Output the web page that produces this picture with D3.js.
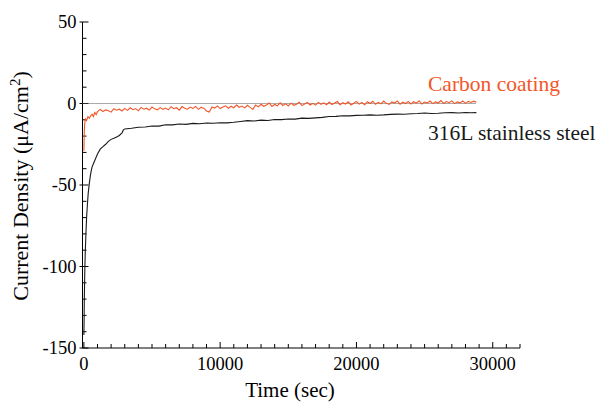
<!DOCTYPE html>
<html>
<head>
<meta charset="utf-8">
<script src="https://cdn.jsdelivr.net/npm/d3@7"></script>
<style>
  body { margin: 0; background: #fff; }
  svg text { font-family: "Liberation Serif", "Times New Roman", serif; }
</style>
</head>
<body>
<svg id="chart" width="603" height="403"></svg>
<script>
// [time (sec), current density (uA/cm2)]
const steelData = [
  [0,-142],[15,-135],[30,-122],[50,-112],[75,-100],[100,-92],[150,-80],[200,-70],
  [260,-62],[320,-55],[400,-49],[500,-43],[600,-39],[700,-37],[800,-35],[1000,-31],
  [1200,-28],[1400,-26.5],[1600,-25],[1800,-23.2],[2000,-22],[2200,-21.3],[2400,-20.5],
  [2600,-19.6],[2800,-18],[2900,-16.2],[3000,-15.6],[3500,-15.2],[4000,-14.6],[4500,-14.4],
  [5000,-13.8],[5500,-13.9],[6000,-13],[6500,-13.1],[7000,-12.6],[7500,-12.8],[8000,-12.2],
  [8500,-12.4],[9000,-12],[9500,-12.1],[10000,-11.8],[10500,-11.9],[11000,-11.5],[11500,-11],
  [12000,-10.5],[12500,-10.7],[13000,-10.2],[13500,-10.4],[14000,-9.8],[14500,-9.9],
  [15000,-9.5],[15500,-9.6],[16000,-9],[16500,-9.1],[17000,-8.8],[17500,-8.5],[18000,-8],
  [18500,-7.9],[19000,-7.5],[19500,-7.6],[20000,-7.3],[20500,-7.2],[21000,-7],[21500,-7.2],
  [22000,-7],[22500,-6.7],[23000,-6.5],[23500,-6.6],[24000,-6.3],[24500,-6.1],[25000,-5.8],
  [25500,-6.1],[26000,-6],[26500,-5.7],[27000,-5.6],[27500,-5.8],[28000,-5.5],[28400,-5.7],
  [28800,-5.6]
];

const carbonData = [
  [0,-29],[15,-24],[30,-18],[50,-14],[80,-11],[120,-9.5],[200,-10.5],[300,-8],[400,-9],
  [500,-7.5],[600,-6.5],[700,-8],[800,-5.5],[900,-6.8],
  [1000,-5.0],[1200,-3.6],[1400,-4.9],[1600,-3.9],[1800,-4.4],[2000,-5.3],[2200,-3.2],
  [2400,-4.1],[2600,-3.5],[2800,-4.6],[3000,-3.0],
  [3200,-4.2],[3400,-2.6],[3600,-3.8],[3800,-3.1],[4000,-4.5],[4200,-2.4],[4400,-3.5],
  [4600,-2.9],[4800,-4.0],[5000,-2.2],[5200,-3.3],[5400,-3.9],[5600,-2.5],[5800,-3.6],[6000,-2.8],
  [6200,-3.9],[6400,-2.0],[6600,-3.2],[6800,-2.6],[7000,-4.1],[7200,-1.9],[7400,-2.9],
  [7600,-3.5],[7800,-2.2],[8000,-3.0],[8200,-1.8],[8400,-3.6],[8600,-2.4],[8800,-2.9],[9000,-4.6],
  [9200,-5.2],[9400,-2.1],[9600,-2.8],[9800,-1.5],[10000,-3.1],[10200,-2.2],[10400,-1.4],
  [10600,-2.9],[10800,-1.7],[11000,-2.6],[11200,-0.9],[11400,-2.3],[11600,-1.6],[11800,-2.7],[12000,-1.1],
  [12200,-2.4],[12400,-3.6],[12600,-1.0],[12800,-2.1],[13000,-0.5],[13200,-1.7],[13400,-0.9],
  [13600,0.3],[13800,-1.8],[14000,-0.6],[14200,-1.4],[14400,0.4],[14600,-1.2],[14800,-0.2],[15000,-1.5],
  [15200,0.2],[15400,-1.1],[15600,-0.4],[15800,0.8],[16000,-1.3],[16200,-0.3],[16400,0.6],
  [16600,-0.9],[16800,0.1],[17000,-1.0],[17200,0.7],[17400,-0.5],[17600,0.4],[17800,-0.8],[18000,0.9],
  [18200,-0.6],[18400,0.3],[18600,1.2],[18800,-0.7],[19000,0.5],[19200,-0.3],[19400,1.0],
  [19600,-0.9],[19800,0.2],[20000,1.3],[20200,-0.4],[20400,0.6],[20600,-0.8],[20800,1.1],[21000,0.0],
  [21200,1.4],[21400,-0.5],[21600,0.7],[21800,-0.2],[22000,1.5],[22200,0.1],[22400,-0.6],
  [22600,1.0],[22800,0.3],[23000,1.6],[23200,-0.4],[23400,0.8],[23600,0.0],[23800,1.3],[24000,-0.3],
  [24200,1.1],[24400,0.2],[24600,1.7],[24800,-0.3],[25000,0.9],[25200,0.4],[25400,1.5],
  [25600,-0.1],[25800,1.0],[26000,0.3],[26200,1.8],[26400,0.0],[26600,1.2],[26800,0.5],[27000,1.6],
  [27200,-0.1],[27400,1.0],[27600,0.4],[27800,1.5],[28000,0.1],[28200,1.3],[28400,0.6],
  [28600,1.4],[28800,0.7]
];

const xMajorTicks = [0, 10000, 20000, 30000];
const yMajorTicks = [-150, -100, -50, 0, 50];

const seriesNames = ["Carbon coating", "316L stainless steel"];
const seriesColors = ["#f2572a", "#1a1a1a"];

const svg = d3.select('#chart');

const x = d3.scaleLinear().domain([-100, 32000]).range([82.5, 520]);
const y = d3.scaleLinear().domain([-150, 50]).range([348, 22]);

// axes, ticks pointing inward
let xAxis = svg.append('g')
  .attr('transform', `translate(0,${y(-150)})`);
xAxis.append('line')
  .attr('x1', x.range()[0]).attr('x2', x.range()[1])
  .attr('stroke', 'black');
xAxis.selectAll('.minor')
  .data(d3.range(0, 32001, 1000))
  .join('line')
  .attr('x1', d => x(d)).attr('x2', d => x(d))
  .attr('y1', 0).attr('y2', d => d % 10000 === 0 ? -6 : -4)
  .attr('stroke', 'black');
xAxis.selectAll('text')
  .data(xMajorTicks)
  .join('text')
  .attr('x', d => x(d))
  .attr('y', 22)
  .attr('text-anchor', 'middle')
  .attr('font-size', 18.5)
  .text(d => d);

let yAxis = svg.append('g')
  .attr('transform', `translate(${x.range()[0]},0)`);
yAxis.append('line')
  .attr('y1', y.range()[0]).attr('y2', y.range()[1])
  .attr('stroke', 'black');
yAxis.selectAll('.minor')
  .data(d3.range(-150, 51, 10))
  .join('line')
  .attr('y1', d => y(d)).attr('y2', d => y(d))
  .attr('x1', d => d % 50 === 0 ? -3 : 0)
  .attr('x2', d => d % 50 === 0 ? 6 : 4)
  .attr('stroke', 'black');
yAxis.selectAll('text')
  .data(yMajorTicks)
  .join('text')
  .attr('x', -6)
  .attr('y', d => y(d))
  .attr('dy', '0.35em')
  .attr('text-anchor', 'end')
  .attr('font-size', 18.5)
  .text(d => d);

// zero line
svg.append('line')
  .attr('x1', x.range()[0]).attr('x2', x(28800))
  .attr('y1', y(0)).attr('y2', y(0))
  .attr('stroke', '#555')
  .attr('stroke-width', 1)
  .attr('stroke-dasharray', '1,1');

const line = d3.line()
  .x(d => x(d[0]))
  .y(d => y(d[1]));

svg.selectAll('path.series')
  .data([steelData, carbonData])
  .join('path')
  .attr('class', 'series')
  .attr('d', line)
  .attr('fill', 'none')
  .attr('stroke', (d, i) => i === 0 ? seriesColors[1] : seriesColors[0])
  .attr('stroke-width', 1.1);

// series labels
svg.append('text')
  .attr('x', 428).attr('y', 91)
  .attr('font-size', 21.5)
  .attr('fill', seriesColors[0])
  .text(seriesNames[0]);
svg.append('text')
  .attr('x', 428).attr('y', 140)
  .attr('font-size', 21.5)
  .attr('fill', seriesColors[1])
  .text(seriesNames[1]);

// axis titles
svg.append('text')
  .attr('x', 290).attr('y', 397)
  .attr('text-anchor', 'middle')
  .attr('font-size', 21)
  .text('Time (sec)');

let yTitle = svg.append('text')
  .attr('transform', 'translate(28,186) rotate(-90)')
  .attr('text-anchor', 'middle')
  .attr('font-size', 22);
yTitle.append('tspan').text('Current Density (\u03bcA/cm');
yTitle.append('tspan').attr('dy', -8).attr('font-size', 15).text('2');
yTitle.append('tspan').attr('dy', 8).text(')');
</script>
</body>
</html>
